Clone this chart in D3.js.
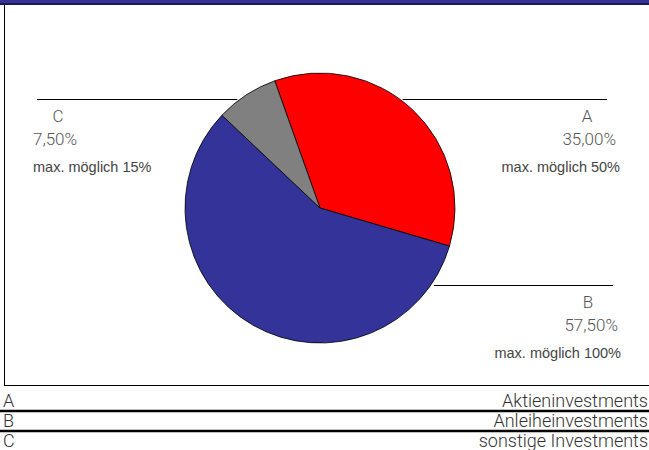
<!DOCTYPE html>
<html>
<head>
<meta charset="utf-8">
<script src="https://cdn.jsdelivr.net/npm/d3@7"></script>
<style>
  body { margin: 0; background: #fff; }
  svg { display: block; }
  text { font-family: Roboto, "Liberation Sans", sans-serif; font-weight: 300; }
</style>
</head>
<body>
<div id="chart"></div>
<script>
// Daten
var keys = ["A", "B", "C"];
var names = ["Aktieninvestments", "Anleiheinvestments", "sonstige Investments"];
var shares = [35.0, 57.5, 7.5];
var maxShares = [50, 100, 15];
var colors = ["#ff0000", "#333399", "#808080"];

var width = 649, height = 450;

var svg = d3.select("#chart").append("svg")
    .attr("width", width)
    .attr("height", height);

// title bar (cut off at the top)
svg.append("rect").attr("x", 0).attr("y", 0).attr("width", width).attr("height", 3).attr("fill", "#333399");
svg.append("rect").attr("x", 0).attr("y", 3).attr("width", width).attr("height", 2).attr("fill", "#1a1a4d");

// frame of the chart area
svg.append("line").attr("x1", 4.5).attr("x2", 4.5).attr("y1", 5).attr("y2", 385.5)
    .attr("stroke", "#000").attr("stroke-width", 1);
svg.append("line").attr("x1", 4).attr("x2", width).attr("y1", 385.5).attr("y2", 385.5)
    .attr("stroke", "#000").attr("stroke-width", 1);

var cx = 320, cy = 208, r = 135;
var startAngle = -19.6 * Math.PI / 180;

var pie = d3.pie().sort(null)
    .startAngle(startAngle)
    .endAngle(startAngle + 2 * Math.PI)
    .value(function(d) { return d; });

var arc = d3.arc().innerRadius(0).outerRadius(r);

var arcs = pie(shares);

var g = svg.append("g").attr("transform", "translate(" + cx + "," + cy + ")");
g.selectAll("path")
    .data(arcs)
    .enter()
    .append("path")
    .attr("d", arc)
    .attr("fill", function(d, i) { return colors[i]; })
    .attr("stroke", "#000")
    .attr("stroke-width", 0.8);

// label layout per slice: line height, line end, text anchor side
var labelPos = [
    { y: 99, outer: 607, side: "right", keyX: 587, maxX: 620, pctX: 616 },
    { y: 285, outer: 613, side: "right", keyX: 588, maxX: 621, pctX: 618 },
    { y: 99, outer: 37, side: "left", keyX: 58, maxX: 33, pctX: 33 }
];

var fmt = function(v) { return d3.format(".2f")(v).replace(".", ",") + "%"; };

arcs.forEach(function(a, i) {
    var p = labelPos[i];
    var dy = p.y - cy;
    var dx = Math.sqrt(r * r - dy * dy);
    var edge = p.side === "right" ? cx + dx + 3 : cx - dx - 3;
    svg.append("line")
        .attr("x1", edge).attr("x2", p.outer)
        .attr("y1", p.y + 0.5).attr("y2", p.y + 0.5)
        .attr("stroke", "#000").attr("stroke-width", 1.2);

    var anchor = p.side === "right" ? "end" : "start";
    svg.append("text")
        .attr("x", p.keyX).attr("y", p.y + 23)
        .attr("text-anchor", "middle")
        .attr("font-size", 17).attr("fill", "#555")
        .text(keys[i]);
    svg.append("text")
        .attr("x", p.pctX).attr("y", p.y + 46)
        .attr("text-anchor", anchor)
        .attr("font-size", 17).attr("fill", "#555")
        .text(fmt(shares[i]));
    svg.append("text")
        .attr("x", p.maxX).attr("y", p.y + 73)
        .attr("text-anchor", anchor)
        .attr("font-size", 14.5).attr("fill", "#444")
        .style("font-family", "'Liberation Sans', Arial, sans-serif")
        .style("font-weight", 400)
        .text("max. möglich " + maxShares[i] + "%");
});

// legend
var rowY = d3.scaleBand().domain(keys).range([391, 451]);
var legend = svg.selectAll("g.leg")
    .data(keys)
    .enter()
    .append("g")
    .attr("class", "leg")
    .attr("transform", function(d) { return "translate(0," + rowY(d) + ")"; });

legend.append("text")
    .attr("x", 3).attr("y", 16)
    .attr("font-size", 18).attr("fill", "#333")
    .text(function(d) { return d; });
legend.append("text")
    .attr("x", 648).attr("y", 16)
    .attr("text-anchor", "end")
    .attr("font-size", 18).attr("fill", "#333")
    .text(function(d, i) { return names[i]; });
legend.filter(function(d, i) { return i < keys.length - 1; })
    .append("line")
    .attr("x1", 0).attr("x2", width)
    .attr("y1", 20).attr("y2", 20)
    .attr("stroke", "#000").attr("stroke-width", 2.5);
</script>
</body>
</html>
